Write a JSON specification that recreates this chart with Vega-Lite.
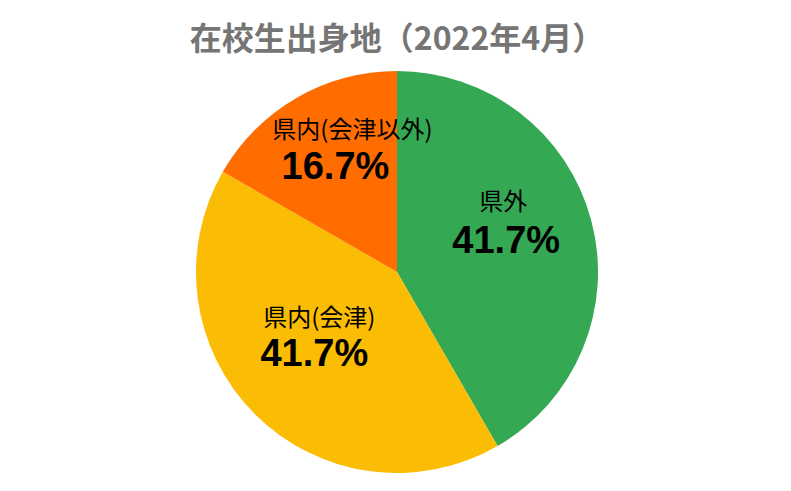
{
  "$schema": "https://vega.github.io/schema/vega-lite/v6.json",
  "width": 400,
  "height": 400,
  "autosize": {"type": "none"},
  "padding": {"left": 197, "top": 72, "right": 194, "bottom": 19},
  "background": "white",
  "view": {"stroke": null},
  "title": {
    "text": "在校生出身地（2022年4月）",
    "font": "Noto Sans CJK JP",
    "fontSize": 32,
    "fontWeight": "bold",
    "color": "#757575",
    "anchor": "middle",
    "offset": 14
  },
  "data": {
    "values": [
      {"cat": "県外", "share": 0.417, "o": 1},
      {"cat": "県内(会津)", "share": 0.417, "o": 2},
      {"cat": "県内(会津以外)", "share": 0.167, "o": 3}
    ]
  },
  "encoding": {
    "theta": {"field": "share", "type": "quantitative", "stack": true},
    "order": {"field": "o", "type": "quantitative"}
  },
  "layer": [
    {
      "mark": {"type": "arc", "outerRadius": 201},
      "encoding": {
        "color": {
          "field": "cat",
          "type": "nominal",
          "scale": {"domain": ["県外", "県内(会津)", "県内(会津以外)"], "range": ["#34A853", "#FBBC04", "#FF6D01"]},
          "legend": null
        }
      }
    },
    {
      "mark": {"type": "text", "radius": 112, "dx": -2, "dy": -40, "font": "Noto Sans CJK JP", "fontSize": 24, "color": "#000000"},
      "encoding": {
        "text": {"field": "cat"},
        "opacity": {"condition": {"test": "datum.o === 1", "value": 1}, "value": 0}
      }
    },
    {
      "mark": {"type": "text", "radius": 112, "dx": 1, "dy": -1, "font": "Liberation Sans", "fontWeight": "bold", "fontSize": 38, "color": "#000000"},
      "encoding": {
        "text": {"field": "share", "format": ".1%"},
        "opacity": {"condition": {"test": "datum.o === 1", "value": 1}, "value": 0}
      }
    },
    {
      "mark": {"type": "text", "radius": 100, "dx": -7, "dy": -24, "font": "Noto Sans CJK JP", "fontSize": 24, "color": "#000000"},
      "encoding": {
        "text": {"field": "cat"},
        "opacity": {"condition": {"test": "datum.o === 2", "value": 1}, "value": 0}
      }
    },
    {
      "mark": {"type": "text", "radius": 100, "dx": -12, "dy": 12, "font": "Liberation Sans", "fontWeight": "bold", "fontSize": 38, "color": "#000000"},
      "encoding": {
        "text": {"field": "share", "format": ".1%"},
        "opacity": {"condition": {"test": "datum.o === 2", "value": 1}, "value": 0}
      }
    },
    {
      "mark": {"type": "text", "radius": 135, "dx": 23, "dy": -24, "font": "Noto Sans CJK JP", "fontSize": 24, "color": "#000000"},
      "encoding": {
        "text": {"field": "cat"},
        "opacity": {"condition": {"test": "datum.o === 3", "value": 1}, "value": 0}
      }
    },
    {
      "mark": {"type": "text", "radius": 135, "dx": 6, "dy": 13, "font": "Liberation Sans", "fontWeight": "bold", "fontSize": 38, "color": "#000000"},
      "encoding": {
        "text": {"field": "share", "format": ".1%"},
        "opacity": {"condition": {"test": "datum.o === 3", "value": 1}, "value": 0}
      }
    }
  ]
}
